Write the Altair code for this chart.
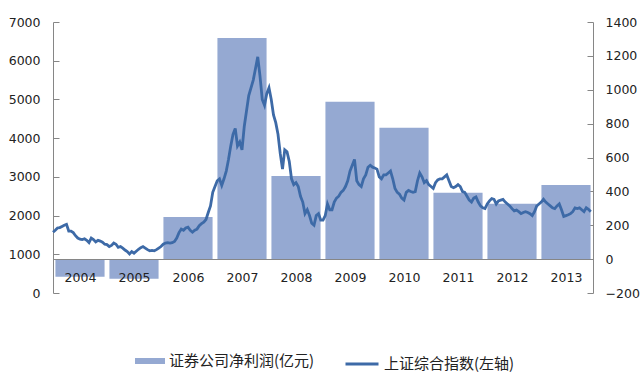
import altair as alt
import pandas as pd

years = list(range(2004, 2014))
profit = [-104, -116, 248, 1305, 491, 929, 775, 392, 327, 438]

# Shanghai composite index, semi-monthly readings (two per month)
idx_2004 = [1570, 1620, 1680, 1690, 1720, 1750, 1775, 1600, 1600, 1560, 1480, 1420,
            1390, 1380, 1400, 1360, 1300, 1420, 1380, 1320, 1360, 1340, 1310, 1260]
idx_2005 = [1250, 1200, 1230, 1290, 1260, 1180, 1200, 1160, 1110, 1070, 1010, 1070,
            1030, 1080, 1130, 1170, 1200, 1160, 1120, 1090, 1100, 1090, 1120, 1160]
idx_2006 = [1200, 1260, 1290, 1300, 1290, 1300, 1330, 1420, 1560, 1650, 1620, 1680,
            1700, 1620, 1570, 1620, 1650, 1740, 1790, 1830, 1900, 2080, 2250, 2600]
idx_2007 = [2750, 2900, 2950, 2780, 2950, 3150, 3450, 3800, 4100, 4250, 3800, 3900,
            3700, 4300, 4700, 5100, 5300, 5500, 5800, 6100, 5600, 5000, 4850, 5150]
idx_2008 = [5300, 5000, 4600, 4400, 4100, 3600, 3200, 3700, 3650, 3400, 2950, 2800,
            2850, 2750, 2500, 2350, 2050, 2150, 2000, 1800, 1750, 2000, 2050, 1880]
idx_2009 = [1880, 2000, 2300, 2150, 2150, 2350, 2450, 2500, 2600, 2650, 2750, 2900,
            3150, 3300, 3450, 2900, 2800, 2750, 2950, 3050, 3250, 3300, 3250, 3230]
idx_2010 = [3200, 3000, 2950, 3050, 3050, 3100, 3150, 2950, 2700, 2600, 2550, 2450,
            2400, 2600, 2650, 2620, 2600, 2620, 2900, 3100, 3000, 2850, 2900, 2800]
idx_2011 = [2750, 2700, 2850, 2920, 2950, 2950, 3000, 3050, 2900, 2750, 2720, 2750,
            2800, 2750, 2620, 2600, 2500, 2400, 2350, 2450, 2480, 2350, 2250, 2200]
idx_2012 = [2180, 2300, 2380, 2440, 2420, 2300, 2380, 2400, 2420, 2350, 2300, 2250,
            2180, 2120, 2140, 2100, 2050, 2080, 2100, 2080, 2050, 2000, 2100, 2250]
idx_2013 = [2300, 2350, 2420, 2350, 2300, 2250, 2200, 2180, 2250, 2300, 2150, 1980,
            2000, 2020, 2050, 2100, 2200, 2180, 2200, 2150, 2100, 2200, 2160, 2100]

index_by_year = [idx_2004, idx_2005, idx_2006, idx_2007, idx_2008,
                 idx_2009, idx_2010, idx_2011, idx_2012, idx_2013]

bar_name = "证券公司净利润(亿元)"
line_name = "上证综合指数(左轴)"

bar_df = pd.DataFrame({"year": years, "profit": profit, "series": bar_name})
rows = []
for y, vals in zip(years, index_by_year):
    for i, v in enumerate(vals):
        rows.append({"t": y + i / 24.0, "idx": v, "series": line_name})
line_df = pd.DataFrame(rows)

BAR = "#95A9D2"
LINE = "#3D6AA7"
GRAY = "#868686"
TXT = "#222222"
AXF = "DejaVu Sans"
AXS = 12.5
CJK = "Noto Sans CJK SC"

x_scale = alt.Scale(domain=[2004, 2014], nice=False, zero=False)
x_axis = alt.Axis(values=[y + 0.5 for y in years], labelExpr="'' + floor(datum.value)",
                  orient="bottom", offset=-34, ticks=False, domainColor=GRAY,
                  labelFont=AXF, labelFontSize=AXS, labelColor=TXT, labelPadding=12,
                  grid=False, title=None, zindex=1)

r_scale = alt.Scale(domain=[-200, 1400], nice=False)
l_scale = alt.Scale(domain=[0, 7000], nice=False)
r_vals = list(range(-200, 1401, 200))
l_vals = list(range(0, 7001, 1000))

bars = alt.Chart(bar_df).transform_calculate(
    x0="datum.year + 0.045", x1="datum.year + 0.955"
).mark_bar(color=BAR).encode(
    x=alt.X("x0:Q", scale=x_scale, axis=x_axis),
    x2="x1:Q",
    y=alt.Y("profit:Q", scale=r_scale,
            axis=alt.Axis(orient="right", values=r_vals, tickSize=0, domainColor=GRAY,
                          format="d", labelFont=AXF, labelFontSize=AXS, labelColor=TXT,
                          labelPadding=12, grid=False, title=None)),
    y2=alt.datum(0),
    fill=alt.Fill("series:N", scale=alt.Scale(domain=[bar_name], range=[BAR]),
                  legend=alt.Legend(title=None, orient="none", legendX=82, legendY=324,
                                    symbolType="M-1,-0.2L1,-0.2L1,0.2L-1,0.2Z",
                                    symbolSize=900, symbolStrokeWidth=0,
                                    labelFont=CJK, labelFontSize=15, labelColor=TXT,
                                    labelOffset=4, padding=0)),
)

r_ticks = alt.Chart(bar_df).mark_point(opacity=0).encode(
    y=alt.Y("profit:Q", scale=r_scale,
            axis=alt.Axis(orient="right", offset=-6, values=r_vals, tickSize=6,
                          tickColor=GRAY, labels=False, domain=False, grid=False, title=None)),
)

line = alt.Chart(line_df).mark_line(strokeWidth=2.8, color=LINE).encode(
    x=alt.X("t:Q", scale=x_scale, axis=x_axis),
    y=alt.Y("idx:Q", scale=l_scale,
            axis=alt.Axis(orient="left", values=l_vals, tickSize=0, domainColor=GRAY,
                          format="d", labelFont=AXF, labelFontSize=AXS, labelColor=TXT,
                          labelPadding=13, grid=False, title=None)),
    stroke=alt.Stroke("series:N", scale=alt.Scale(domain=[line_name], range=[LINE]),
                      legend=alt.Legend(title=None, orient="none", legendX=291, legendY=324,
                                        symbolType="stroke", symbolSize=1089,
                                        symbolStrokeWidth=3,
                                        labelFont=CJK, labelFontSize=15, labelColor=TXT,
                                        labelOffset=4, padding=0)),
)

l_ticks = alt.Chart(line_df).mark_point(opacity=0).encode(
    y=alt.Y("idx:Q", scale=l_scale,
            axis=alt.Axis(orient="left", offset=-6, values=l_vals, tickSize=6,
                          tickColor=GRAY, labels=False, domain=False, grid=False, title=None)),
)

chart = alt.layer(bars, r_ticks, line, l_ticks).resolve_scale(
    y="independent"
).properties(
    width=540, height=271,
    padding={"left": 53, "top": 22, "right": 51, "bottom": 83},
    autosize=alt.AutoSizeParams(type="none"),
    background="white",
).configure_view(stroke=None)

chart.save("out.html", embed_options={"renderer": "svg", "actions": False})
